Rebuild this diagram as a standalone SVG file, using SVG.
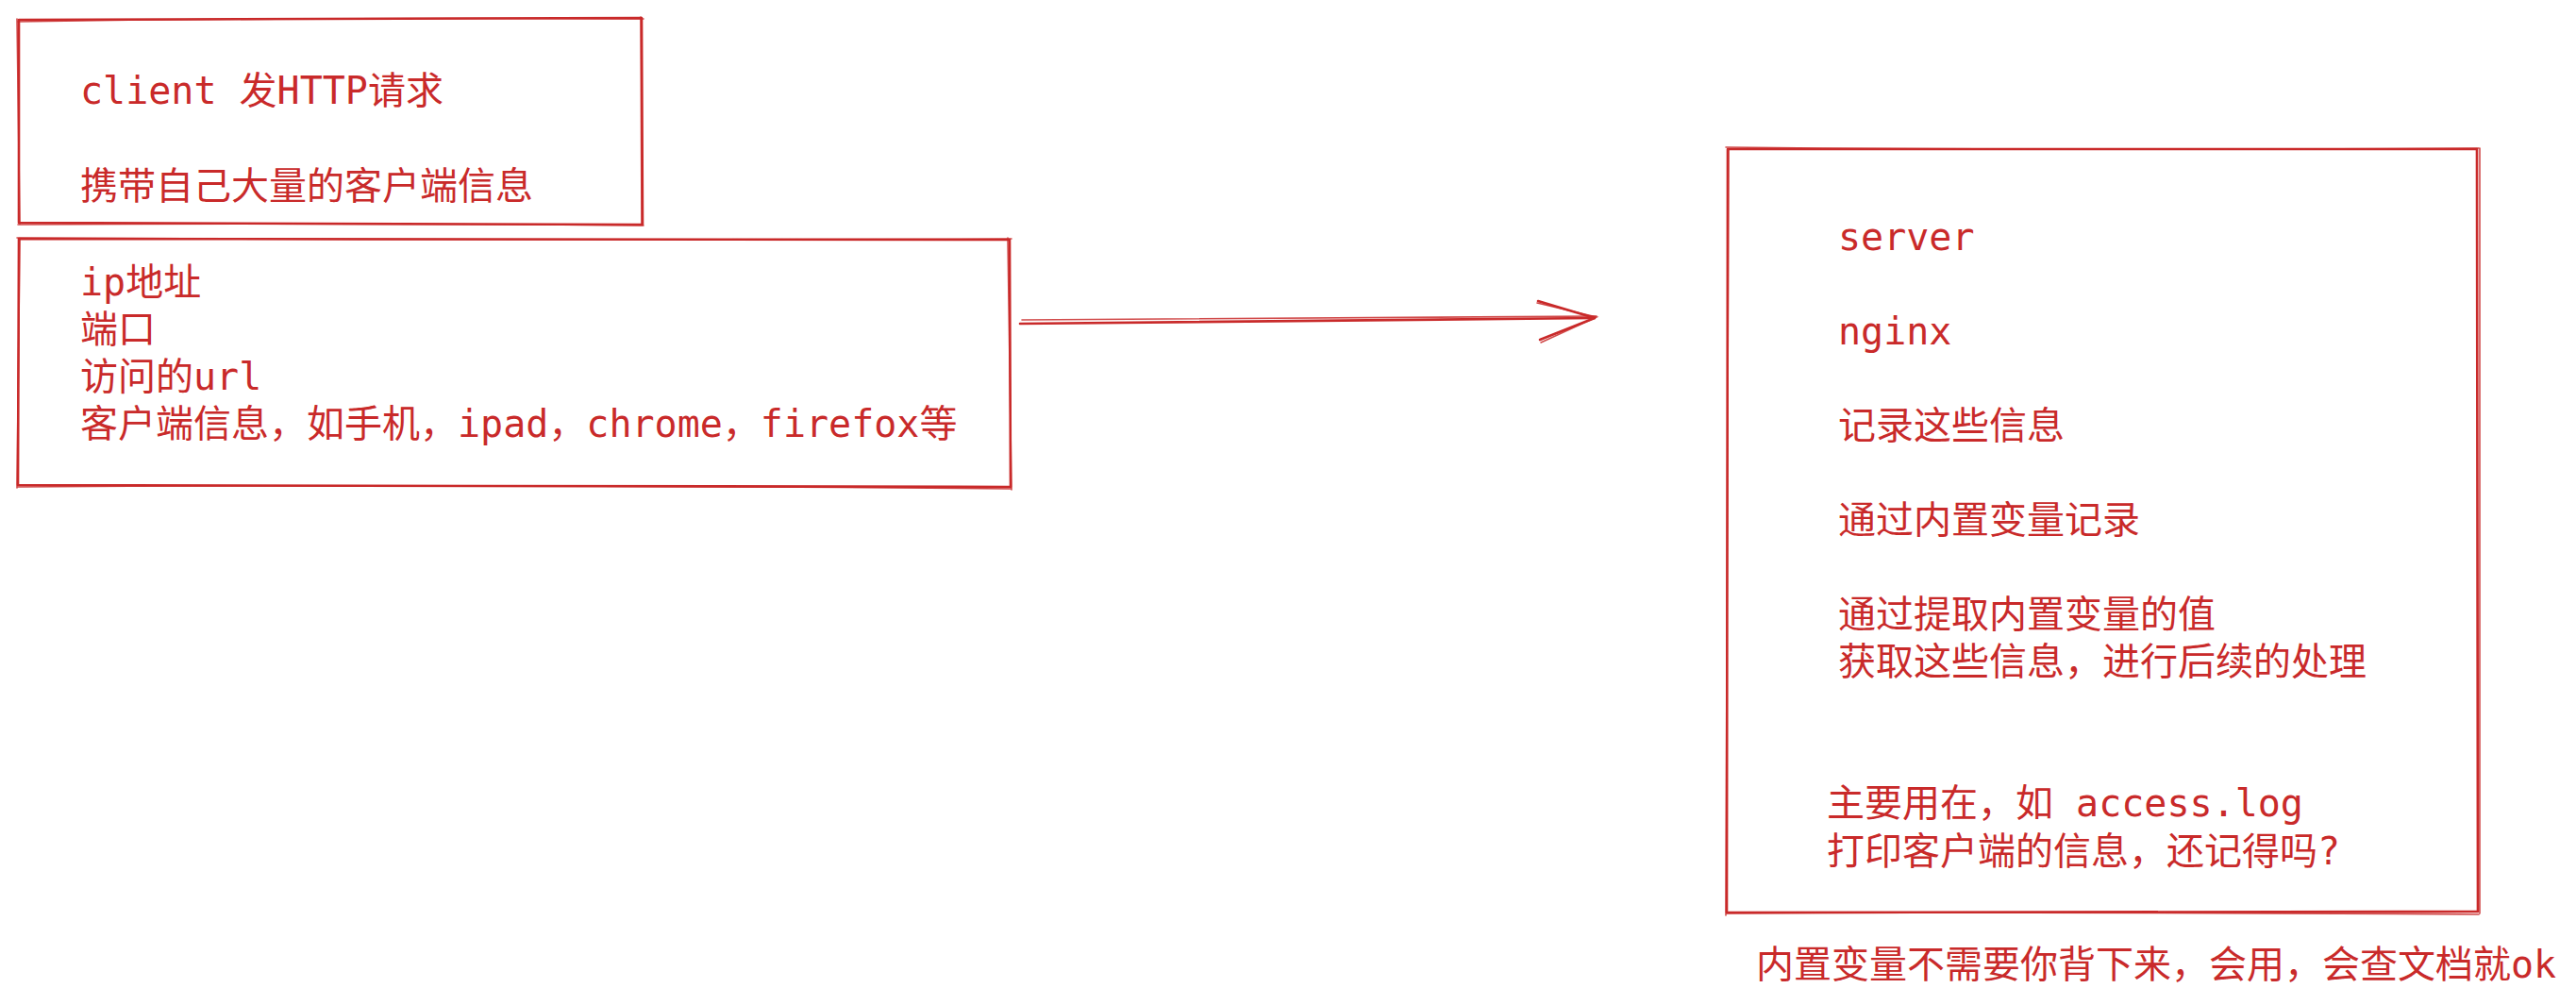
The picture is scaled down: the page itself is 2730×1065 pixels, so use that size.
<svg xmlns="http://www.w3.org/2000/svg" width="2730" height="1065" viewBox="0 0 2730 1065">
<style>
.s{fill:none;stroke:#c92a2a;stroke-width:2.6;stroke-linecap:round;stroke-linejoin:round}
.s2{fill:none;stroke:#c92a2a;stroke-width:1.6;stroke-linecap:round;opacity:0.85}
.t{font-family:"DejaVu Sans Mono","Noto Sans CJK SC",monospace;font-size:40px;fill:#c92a2a}
</style>
<rect width="2730" height="1065" fill="#ffffff"/>
<g id="client">
<path class="s" d="M20 21 L680 19 L681 238 L20 236 Z"/>
<path class="s2" d="M18 23 Q350 18 682 20 M679 18 L680 239 M682 239 Q350 236 19 238 M21 238 L18 20"/>
<text class="t" x="85" y="110">client 发HTTP请求</text>
<text class="t" x="85" y="211">携带自己大量的客户端信息</text>
</g>
<g id="client-info">
<path class="s" d="M20 253 L1070 254 L1071 516 L19 514 Z"/>
<path class="s2" d="M18 252 Q540 255 1072 253 M1068 252 L1072 519 M1071 518 Q540 513 18 516 M18 517 L21 254"/>
<text class="t" x="85" y="313">ip地址</text>
<text class="t" x="85" y="363">端口</text>
<text class="t" x="85" y="413">访问的url</text>
<text class="t" x="85" y="463">客户端信息，如手机，ipad，chrome，firefox等</text>
</g>
<g id="server">
<path class="s" d="M1831 158 L2625 158 L2626 966 L1830 967 Z"/>
<path class="s2" d="M1829 156 Q2230 160 2627 157 M2628 157 L2628 968 M2627 969 Q2230 966 1829 968 M1829 970 L1832 157"/>
<text class="t" x="1948" y="265">server</text>
<text class="t" x="1948" y="365">nginx</text>
<text class="t" x="1948" y="465">记录这些信息</text>
<text class="t" x="1948" y="565">通过内置变量记录</text>
<text class="t" x="1948" y="665">通过提取内置变量的值</text>
<text class="t" x="1948" y="715">获取这些信息，进行后续的处理</text>
<text class="t" x="1936" y="865">主要用在，如 access.log</text>
<text class="t" x="1936" y="916">打印客户端的信息，还记得吗?</text>
</g>
<g id="note">
<text class="t" x="1861" y="1036">内置变量不需要你背下来，会用，会查文档就ok</text>
</g>
<g id="connectors">
<path class="s" d="M1081 343 L1690 337"/>
<path class="s2" d="M1083 339 L1692 335"/>
<path class="s" d="M1630 319 L1690 337 L1632 360"/>
<path class="s2" d="M1629 321 L1692 336 L1633 363"/>
</g>
</svg>
